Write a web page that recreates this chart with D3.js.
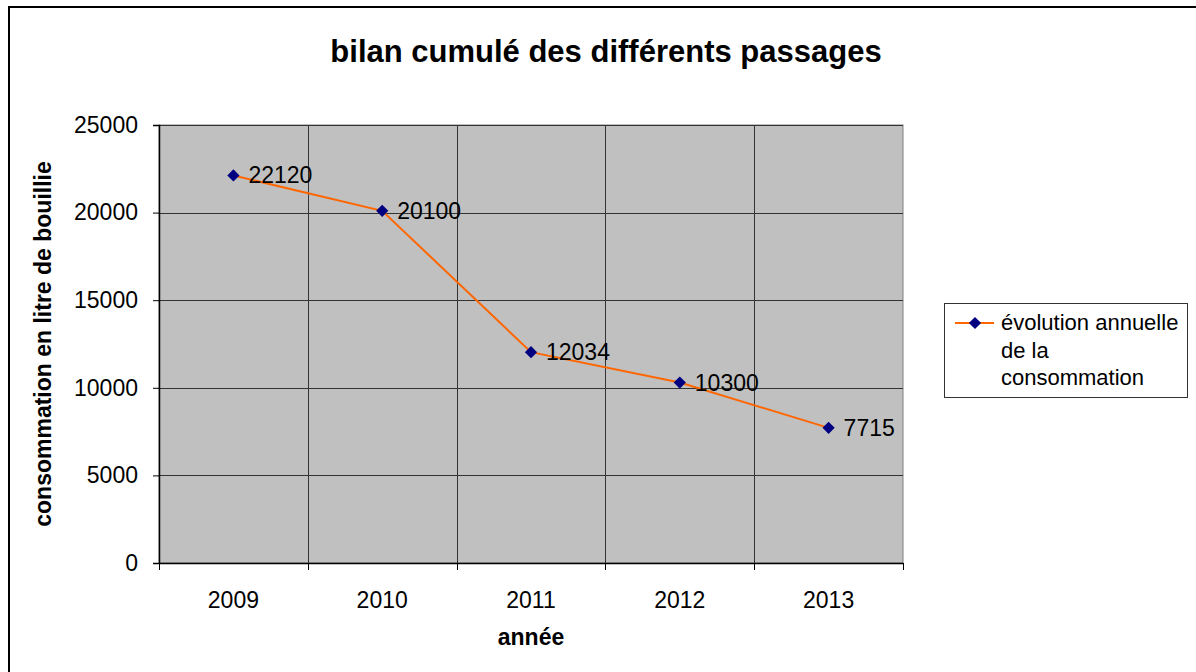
<!DOCTYPE html>
<html>
<meta charset="utf-8">
<script src="https://d3js.org/d3.v7.min.js"></script>
<style>
  body { margin: 0; background: #fff; }
  text { font-family: "Liberation Sans", Arial, sans-serif; }
</style>
<body>
<script>

var years = ["2009", "2010", "2011", "2012", "2013"];
var conso = [22120, 20100, 12034, 10300, 7715];
var yTicks = [0, 5000, 10000, 15000, 20000, 25000];
var legendLines = ["évolution annuelle", "de la", "consommation"];

var W = 1196, H = 672;
var plot = ({left: 159, top: 125, right: 903, bottom: 563});

var svg = d3.select("body").append("svg")
  .attr("width", W)
  .attr("height", H);

// chart frame (runs off the right/bottom edges like the screenshot)
svg.append("rect")
  .attr("x", 9).attr("y", 7)
  .attr("width", 1200).attr("height", 700)
  .attr("fill", "#fff")
  .attr("stroke", "#000")
  .attr("stroke-width", 2);

var x = d3.scaleBand()
  .domain(years)
  .range([plot.left, plot.right])
  .padding(0);

var y = d3.scaleLinear()
  .domain([0, 25000])
  .range([plot.bottom, plot.top]);

// plot background
svg.append("rect")
  .attr("x", plot.left).attr("y", plot.top)
  .attr("width", plot.right - plot.left)
  .attr("height", plot.bottom - plot.top)
  .attr("fill", "#c0c0c0")
  .attr("stroke", "#808080")
  .attr("stroke-width", 1);

// horizontal grid
svg.append("g").selectAll("line")
  .data(yTicks.slice(1))
  .enter().append("line")
  .attr("x1", plot.left).attr("x2", plot.right)
  .attr("y1", d => Math.round(y(d)) + 0.5)
  .attr("y2", d => Math.round(y(d)) + 0.5)
  .attr("stroke", "#333")
  .attr("stroke-width", 1);

// vertical grid at category boundaries
svg.append("g").selectAll("line")
  .data(years.slice(1))
  .enter().append("line")
  .attr("x1", d => Math.round(x(d)) + 0.5)
  .attr("x2", d => Math.round(x(d)) + 0.5)
  .attr("y1", plot.top).attr("y2", plot.bottom)
  .attr("stroke", "#333")
  .attr("stroke-width", 1);

// y axis
var yAx = d3.axisLeft(y)
  .tickValues(yTicks)
  .tickSize(6)
  .tickPadding(15)
  .tickFormat(d3.format("d"));
var yGroup = svg.append("g")
  .attr("transform", `translate(${plot.left},0)`)
  .call(yAx);
yGroup.select(".domain").attr("stroke", "#000").attr("stroke-width", 1.5);
yGroup.selectAll(".tick line").attr("stroke", "#000");
yGroup.selectAll("text")
  .attr("font-size", 23)
  .attr("fill", "#000")
  .style("font-family", "'Liberation Sans', Arial, sans-serif");

// x axis: ticks at category boundaries
var xAx = d3.axisBottom(x).tickSize(0).tickPadding(29);
var xGroup = svg.append("g")
  .attr("transform", `translate(0,${plot.bottom})`)
  .call(xAx);
xGroup.select(".domain").attr("stroke", "#000").attr("stroke-width", 1.5);
xGroup.selectAll("text")
  .attr("font-size", 23)
  .attr("fill", "#000")
  .style("font-family", "'Liberation Sans', Arial, sans-serif");
svg.append("g").selectAll("line")
  .data(years.concat(["end"]))
  .enter().append("line")
  .attr("x1", (d, i) => Math.round(plot.left + i * x.bandwidth()) + 0.5)
  .attr("x2", (d, i) => Math.round(plot.left + i * x.bandwidth()) + 0.5)
  .attr("y1", plot.bottom).attr("y2", plot.bottom + 7)
  .attr("stroke", "#000");

// line series
var pts = years.map((d, i) => ({year: d, v: conso[i]}));
var line = d3.line()
  .x(d => x(d.year) + x.bandwidth() / 2)
  .y(d => y(d.v));
svg.append("path")
  .datum(pts)
  .attr("d", line)
  .attr("fill", "none")
  .attr("stroke", "#ff6600")
  .attr("stroke-width", 2);

var diamond = d3.symbol().type(d3.symbolDiamond2).size(95);
svg.append("g").selectAll("path")
  .data(pts)
  .enter().append("path")
  .attr("d", diamond)
  .attr("transform", d => `translate(${x(d.year) + x.bandwidth() / 2},${y(d.v)})`)
  .attr("fill", "#000080");

// data labels
svg.append("g").selectAll("text")
  .data(pts)
  .enter().append("text")
  .attr("x", d => x(d.year) + x.bandwidth() / 2 + 15)
  .attr("y", d => y(d.v) + 8)
  .attr("font-size", 23)
  .attr("fill", "#000")
  .text(d => d.v);

// titles
svg.append("text")
  .attr("x", 606).attr("y", 62)
  .attr("text-anchor", "middle")
  .attr("font-size", 31)
  .attr("font-weight", "bold")
  .text("bilan cumulé des différents passages");

svg.append("text")
  .attr("x", (plot.left + plot.right) / 2).attr("y", 645)
  .attr("text-anchor", "middle")
  .attr("font-size", 23)
  .attr("font-weight", "bold")
  .text("année");

svg.append("text")
  .attr("transform", `translate(51,${(plot.top + plot.bottom) / 2}) rotate(-90)`)
  .attr("text-anchor", "middle")
  .attr("font-size", 23)
  .attr("font-weight", "bold")
  .text("consommation en litre de bouillie");

// legend
var lg = svg.append("g").attr("transform", "translate(944,303)");
lg.append("rect")
  .attr("x", 0.5).attr("y", 0.5)
  .attr("width", 243).attr("height", 94)
  .attr("fill", "#fff")
  .attr("stroke", "#333");
lg.append("line")
  .attr("x1", 11).attr("x2", 50)
  .attr("y1", 20).attr("y2", 20)
  .attr("stroke", "#ff6600").attr("stroke-width", 2);
lg.append("path")
  .attr("d", diamond)
  .attr("transform", "translate(31,20)")
  .attr("fill", "#000080");
lg.selectAll("text.lbl")
  .data(legendLines)
  .enter().append("text")
  .attr("class", "lbl")
  .attr("x", 57)
  .attr("y", (d, i) => 27 + i * 27.5)
  .attr("font-size", 22)
  .attr("fill", "#000")
  .text(d => d);

</script>
</body>
</html>
